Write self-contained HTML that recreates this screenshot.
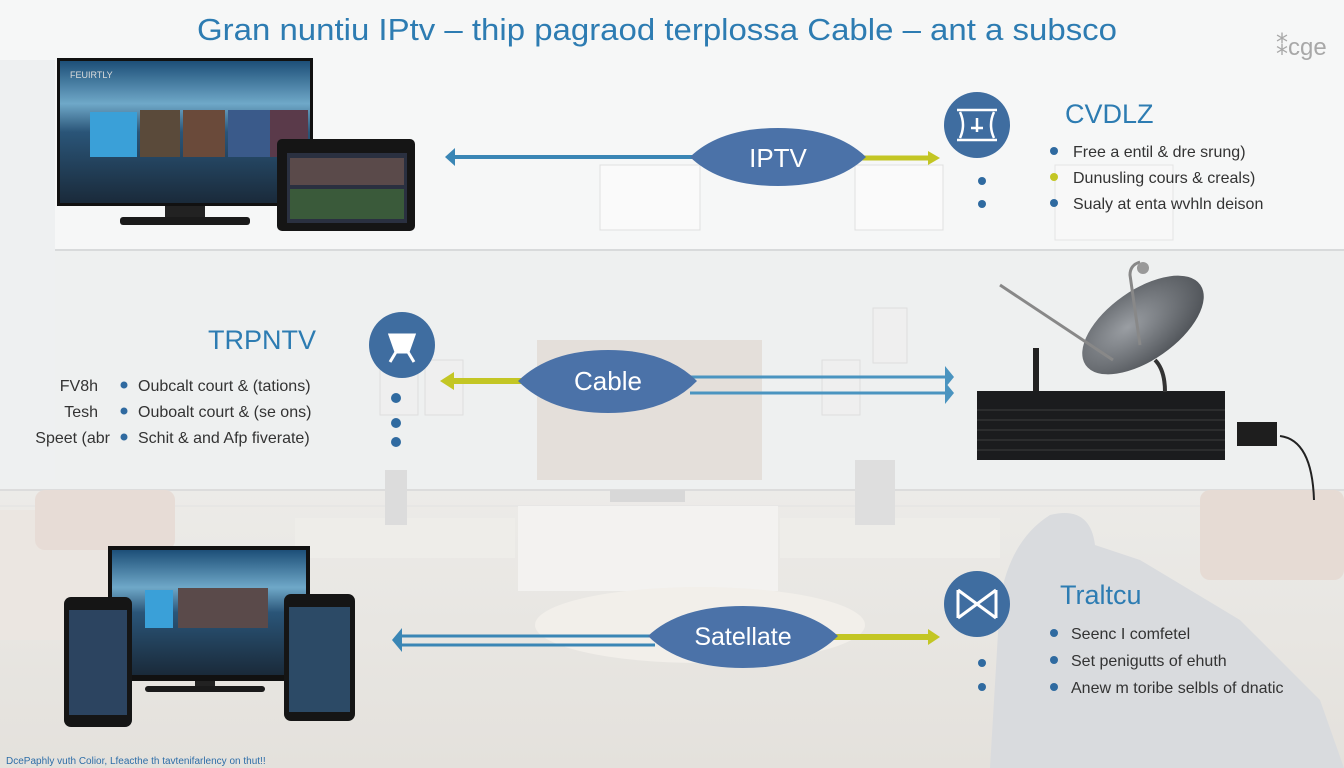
<!DOCTYPE html>
<html><head><meta charset="utf-8"><style>
html,body{margin:0;padding:0;width:1344px;height:768px;overflow:hidden;background:#f4f5f5}
svg{display:block}
text{font-family:"Liberation Sans",sans-serif}
</style></head><body>
<svg width="1344" height="768" viewBox="0 0 1344 768" xmlns="http://www.w3.org/2000/svg">
<defs>
<linearGradient id="scr" x1="0" y1="0" x2="0" y2="1"><stop offset="0" stop-color="#1d4f78"/><stop offset="0.3" stop-color="#6fa8c8"/><stop offset="0.5" stop-color="#2a5578"/><stop offset="1" stop-color="#1a2a3a"/></linearGradient>
<linearGradient id="bot" x1="0" y1="0" x2="0" y2="1"><stop offset="0" stop-color="#ecebe8"/><stop offset="1" stop-color="#e4e1dc"/></linearGradient>
<radialGradient id="dish" cx="0.4" cy="0.4" r="0.7"><stop offset="0" stop-color="#9a9ea3"/><stop offset="1" stop-color="#4a4e53"/></radialGradient>
</defs>
<rect x="0" y="0" width="1344" height="250" fill="#f6f7f7"/>
<rect x="0" y="250" width="1344" height="240" fill="#eef0f0"/>
<rect x="0" y="490" width="1344" height="278" fill="url(#bot)"/>
<line x1="0" y1="250" x2="1344" y2="250" stroke="#d8dadb" stroke-width="2"/>
<line x1="0" y1="490" x2="1344" y2="490" stroke="#dcdcdc" stroke-width="2"/>
<line x1="0" y1="506" x2="1344" y2="506" stroke="#e2e2e2" stroke-width="1"/>
<rect x="0" y="60" width="55" height="420" fill="#eef0f1"/>
<rect x="600" y="165" width="100" height="65" fill="#fafafa" stroke="#e0e0e0"/>
<rect x="855" y="165" width="88" height="65" fill="#fafafa" stroke="#e0e0e0"/>
<rect x="1055" y="165" width="118" height="75" fill="#f8f8f8" stroke="#e4e4e4"/>
<rect x="537" y="340" width="225" height="140" fill="#e4dfda"/>
<rect x="610" y="490" width="75" height="12" fill="#d8d8d8"/>
<rect x="518" y="506" width="260" height="85" fill="#f3f2f0"/>
<rect x="295" y="518" width="220" height="40" fill="#eeede9"/>
<rect x="780" y="518" width="220" height="40" fill="#eeede9"/>
<rect x="380" y="360" width="38" height="55" fill="#efefef" stroke="#dedede"/>
<rect x="425" y="360" width="38" height="55" fill="#efefef" stroke="#dedede"/>
<rect x="822" y="360" width="38" height="55" fill="#efefef" stroke="#dedede"/>
<rect x="873" y="308" width="34" height="55" fill="#efefef" stroke="#dedede"/>
<rect x="385" y="470" width="22" height="55" fill="#dcdcdc"/>
<rect x="855" y="460" width="40" height="65" fill="#dedede"/>
<rect x="0" y="510" width="165" height="130" fill="#ebe6e1"/>
<rect x="35" y="490" width="140" height="60" rx="10" fill="#e7dcd6"/>
<rect x="1200" y="490" width="144" height="90" rx="10" fill="#e6dbd4"/>
<ellipse cx="700" cy="625" rx="165" ry="38" fill="#f2efea"/>
<path d="M990,768 L1000,600 Q1010,540 1050,515 Q1090,505 1095,545 L1140,560 L1240,620 L1320,700 L1344,768 Z" fill="#d9dbde"/>
<text x="657" y="40" text-anchor="middle" font-size="31" fill="#2d7cb2" textLength="920" lengthAdjust="spacingAndGlyphs">Gran nuntiu IPtv – thip pagraod terplossa  Cable – ant a subsco</text>
<text x="1276" y="55" font-size="24" fill="#a8a8a8">⁑cge</text>
<rect x="57" y="58" width="256" height="148" fill="#111"/>
<rect x="60" y="61" width="250" height="142" fill="url(#scr)"/>
<rect x="90" y="112" width="47" height="45" fill="#3aa0d8"/>
<rect x="140" y="110" width="40" height="47" fill="#5a4a3a"/>
<rect x="183" y="110" width="42" height="47" fill="#6a4a3a"/>
<rect x="228" y="110" width="42" height="47" fill="#3a5a8a"/>
<rect x="270" y="110" width="38" height="47" fill="#5a3a4a"/>
<rect x="165" y="206" width="40" height="12" fill="#222"/>
<rect x="120" y="217" width="130" height="8" rx="3" fill="#1a1a1a"/>
<text x="70" y="78" font-size="9" fill="#ddd">FEUIRTLY</text>
<rect x="277" y="139" width="138" height="92" rx="5" fill="#151515"/>
<rect x="287" y="153" width="120" height="70" fill="#2a3040"/>
<rect x="290" y="158" width="114" height="27" fill="#5a4a4a"/>
<rect x="290" y="189" width="114" height="30" fill="#3a5a3a"/>
<line x1="452" y1="157" x2="695" y2="157" stroke="#3a86b5" stroke-width="4"/>
<path d="M445,157 L455,148 L455,166 Z" fill="#3a86b5"/>
<line x1="860" y1="158" x2="930" y2="158" stroke="#c3c624" stroke-width="5"/>
<path d="M940,158 L928,151 L928,165 Z" fill="#c3c624"/>
<path d="M690,157 Q720,128 778,128 Q836,128 866,157 Q836,186 778,186 Q720,186 690,157 Z" fill="#4b72a8"/>
<text x="778" y="167" text-anchor="middle" font-size="26" fill="#fff">IPTV</text>
<circle cx="977" cy="125" r="33" fill="#3f6da0"/>
<path d="M957,110 L997,110 M957,140 L997,140 M960,112 Q966,125 960,138 M994,112 Q988,125 994,138 M977,118 L977,132 M971,128 L983,128" stroke="#fff" stroke-width="2.5" fill="none"/>
<text x="1065" y="123" font-size="27" fill="#2d7cb2">CVDLZ</text>
<g fill="#2f6aa0"><circle cx="1054" cy="151" r="4"/><circle cx="1054" cy="177" r="4" fill="#c3c624"/><circle cx="1054" cy="203" r="4"/><circle cx="982" cy="181" r="4"/><circle cx="982" cy="204" r="4"/></g>
<g font-size="16" fill="#333"><text x="1073" y="157">Free a entil &amp; dre srung)</text><text x="1073" y="183">Dunusling cours &amp; creals)</text><text x="1073" y="209">Sualy at enta wvhln deison</text></g>
<text x="316" y="349" text-anchor="end" font-size="27" fill="#2d7cb2">TRPNTV</text>
<circle cx="402" cy="345" r="33" fill="#3f6da0"/>
<path d="M390,335 L414,335 L408,352 L396,352 Z M396,352 L390,362 M408,352 L414,362" stroke="#fff" stroke-width="3" fill="#fff"/>
<g font-size="16" fill="#333">
<text x="98" y="391" text-anchor="end">FV8h</text><text x="98" y="417" text-anchor="end">Tesh</text><text x="110" y="443" text-anchor="end">Speet (abr</text>
<text x="138" y="391">Oubcalt court &amp; (tations)</text><text x="138" y="417">Ouboalt court &amp; (se ons)</text><text x="138" y="443">Schit &amp; and  Afp fiverate)</text></g>
<g fill="#2f6aa0"><circle cx="124" cy="385" r="3.5"/><circle cx="124" cy="411" r="3.5"/><circle cx="124" cy="437" r="3.5"/><circle cx="396" cy="398" r="5"/><circle cx="396" cy="423" r="5"/><circle cx="396" cy="442" r="5"/></g>
<line x1="450" y1="381" x2="525" y2="381" stroke="#c3c624" stroke-width="6"/>
<path d="M440,381 L454,372 L454,390 Z" fill="#c3c624"/>
<line x1="690" y1="377" x2="948" y2="377" stroke="#4a94c0" stroke-width="3"/>
<line x1="690" y1="393" x2="948" y2="393" stroke="#4a94c0" stroke-width="3"/>
<path d="M954,377 L945,366 L945,388 Z M954,393 L945,382 L945,404 Z" fill="#4a94c0"/>
<path d="M518,381 Q550,350 608,350 Q666,350 697,381 Q666,413 608,413 Q550,413 518,381 Z" fill="#4b72a8"/>
<text x="608" y="390" text-anchor="middle" font-size="26" fill="#fff">Cable</text>
<rect x="1033" y="348" width="6" height="45" fill="#222"/>
<rect x="977" y="391" width="248" height="69" fill="#1b1c1e"/>
<g stroke="#333" stroke-width="1.5"><line x1="977" y1="410" x2="1225" y2="410"/><line x1="977" y1="420" x2="1225" y2="420"/><line x1="977" y1="430" x2="1225" y2="430"/><line x1="977" y1="440" x2="1225" y2="440"/><line x1="977" y1="450" x2="1225" y2="450"/></g>
<path d="M1155,360 Q1165,370 1165,392" stroke="#333" stroke-width="4" fill="none"/>
<ellipse cx="1143" cy="325" rx="70" ry="35" transform="rotate(-35 1143 325)" fill="url(#dish)"/>
<line x1="1000" y1="285" x2="1113" y2="360" stroke="#888" stroke-width="3"/>
<path d="M1140,345 L1130,275 Q1130,265 1140,262" stroke="#888" stroke-width="3" fill="none"/>
<circle cx="1143" cy="268" r="6" fill="#999"/>
<rect x="1237" y="422" width="40" height="24" fill="#1e1e1e"/>
<path d="M1280,436 Q1312,440 1314,500" stroke="#222" stroke-width="2" fill="none"/>
<rect x="108" y="546" width="202" height="135" fill="#111"/>
<rect x="112" y="550" width="194" height="125" fill="url(#scr)"/>
<rect x="145" y="590" width="28" height="38" fill="#3aa0d8"/>
<rect x="178" y="588" width="90" height="40" fill="#5a4a4a"/>
<rect x="195" y="681" width="20" height="6" fill="#222"/>
<rect x="145" y="686" width="120" height="6" rx="3" fill="#1a1a1a"/>
<rect x="64" y="597" width="68" height="130" rx="7" fill="#151515"/>
<rect x="69" y="610" width="58" height="105" fill="#2c4460"/>
<rect x="284" y="594" width="71" height="127" rx="7" fill="#151515"/>
<rect x="289" y="607" width="61" height="105" fill="#2c4a66"/>
<line x1="400" y1="636" x2="655" y2="636" stroke="#3a86b5" stroke-width="3"/>
<line x1="400" y1="645" x2="655" y2="645" stroke="#3a86b5" stroke-width="3"/>
<path d="M392,640 L402,628 L402,652 Z" fill="#3a86b5"/>
<line x1="830" y1="637" x2="930" y2="637" stroke="#c3c624" stroke-width="6"/>
<path d="M940,637 L928,629 L928,645 Z" fill="#c3c624"/>
<path d="M648,636 Q680,606 743,606 Q806,606 838,636 Q806,668 743,668 Q680,668 648,636 Z" fill="#4b72a8"/>
<text x="743" y="645" text-anchor="middle" font-size="25" fill="#fff">Satellate</text>
<circle cx="977" cy="604" r="33" fill="#3f6da0"/>
<path d="M958,590 L996,618 M996,590 L958,618 M958,590 L958,618 M996,590 L996,618" stroke="#fff" stroke-width="3" fill="none"/>
<text x="1060" y="604" font-size="27" fill="#2d7cb2">Traltcu</text>
<g fill="#2f6aa0"><circle cx="1054" cy="633" r="4"/><circle cx="1054" cy="660" r="4"/><circle cx="1054" cy="687" r="4"/><circle cx="982" cy="663" r="4"/><circle cx="982" cy="687" r="4"/></g>
<g font-size="16" fill="#333"><text x="1071" y="639">Seenc I comfetel</text><text x="1071" y="666">Set penigutts of ehuth</text><text x="1071" y="693">Anew m toribe selbls of dnatic</text></g>
<text x="6" y="764" font-size="10" fill="#2d6ea8">DcePaphly vuth Colior, Lfeacthe th tavtenifarlency on thut!!</text>
</svg>
</body></html>
